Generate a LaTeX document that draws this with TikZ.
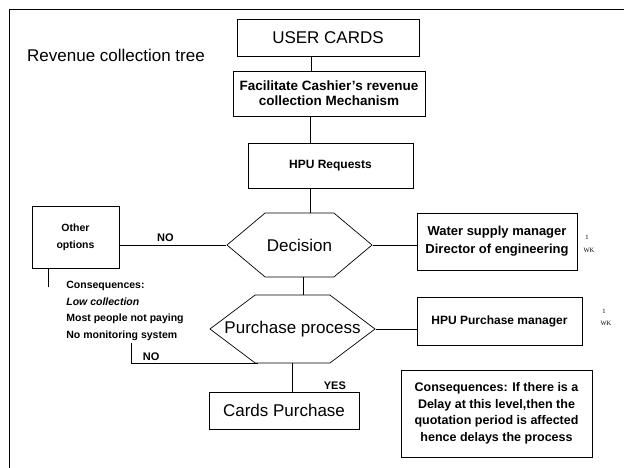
\documentclass[tikz,border=0pt]{standalone}
\usepackage{fontspec}
\setmainfont{Liberation Sans}
\newfontfamily\wkfont{Liberation Serif}
\usetikzlibrary{positioning,shapes.symbols}

\begin{document}
\begin{tikzpicture}[x=1pt, y=-1pt, line width=0.7pt,
  box/.style={draw, inner sep=2pt, align=center},
  big/.style={font=\fontsize{17}{20}\selectfont},
  lbl/.style={font=\bfseries\fontsize{11}{13}\selectfont, inner sep=1pt},
  hexa/.style={draw, shape=signal, signal to=east and west, inner sep=0pt, font=\fontsize{17}{20}\selectfont},
  wk/.style={font=\wkfont\fontsize{6.5}{8}\selectfont, inner sep=0pt}]
\useasboundingbox (0,0) rectangle (624,468);
\draw[line width=1.2pt] (9.5,468) -- (9.5,9.5) -- (624,9.5);

\node[big] (title) at (116,55) {Revenue collection tree};
\node[box, big, minimum width=182pt, minimum height=37pt] (user) at (328,37.5) {USER CARDS};
\node[box, minimum width=192pt, minimum height=45pt, font=\bfseries\fontsize{13.5}{15}\selectfont] (facil) at (329,93.5) {Facilitate Cashier's revenue\\collection Mechanism};
\node[box, minimum width=165pt, minimum height=45pt, font=\bfseries\fontsize{12}{14}\selectfont] (hpu) at (330.5,165.5) {HPU Requests};
\node[hexa, signal pointer angle=80, minimum width=145pt, minimum height=64pt] (decision) at (299.5,245) {Decision};
\node[box, minimum width=87pt, minimum height=62pt, font=\bfseries\fontsize{10.5}{17}\selectfont] (other) at (75.5,237) {Other\\options};
\node[box, minimum width=160pt, minimum height=57pt, font=\bfseries\fontsize{13}{18}\selectfont] (water) at (497,241.5) {Water supply manager\\Director of engineering};
\node[hexa, signal pointer angle=74, inner xsep=-31pt, minimum width=165pt, minimum height=68pt] (purchase) at (292.5,329) {Purchase process};
\node[box, minimum width=165pt, minimum height=48pt, font=\bfseries\fontsize{12}{14}\selectfont] (hpm) at (499.5,321) {HPU Purchase manager};
\node[box, big, minimum width=150pt, minimum height=37pt] (cards) at (284,410.5) {Cards Purchase};
\node[box, minimum width=191pt, minimum height=87pt, font=\bfseries\fontsize{12.5}{16.5}\selectfont] (note) at (496.5,413.5) {Consequences: If there is a\\Delay at this level,then the\\quotation period is affected\\hence delays the process};
\node[anchor=north west, align=left, inner sep=0pt, font=\bfseries\fontsize{10.5}{16.5}\selectfont] (effects) at (66,281) {Consequences:\\\textit{Low collection}\\Most people not paying\\No monitoring system};

\node[wk] (wka) at (587,237) {1};
\node[wk] (wkb) at (589,250) {WK};
\node[wk] (wkc) at (604,311) {1};
\node[wk] (wkd) at (606,323) {WK};

% links
\draw ([xshift=-17pt]user.south) -- ([xshift=-17pt]user.south |- facil.north);
\draw ([xshift=-19pt]facil.south) -- ([xshift=-19pt]facil.south |- hpu.north);
\draw ([xshift=-20.5pt]hpu.south) -- ([xshift=-20.5pt]hpu.south |- decision.north);
\draw (other.east |- decision.west) -- node[lbl, pos=0.43, above=2pt]{NO} (decision.west);
\draw (decision.east) -- (decision.east -| water.west);
\draw ([xshift=3.5pt]decision.south) -- ([xshift=3.5pt]decision.south |- purchase.north);
\draw (purchase.east) -- (purchase.east -| hpm.west);
\draw (purchase.south) -- node[lbl, pos=0.8, right=30pt]{YES} (purchase.south |- cards.north);
\coordinate (tick) at (48,287);
\draw (tick |- other.south) -- (tick);
\coordinate (back) at (131,343);
\draw ([xshift=-35pt]purchase.south) -| node[lbl, pos=0.42, above=1pt]{NO} (back);
\end{tikzpicture}
\end{document}
